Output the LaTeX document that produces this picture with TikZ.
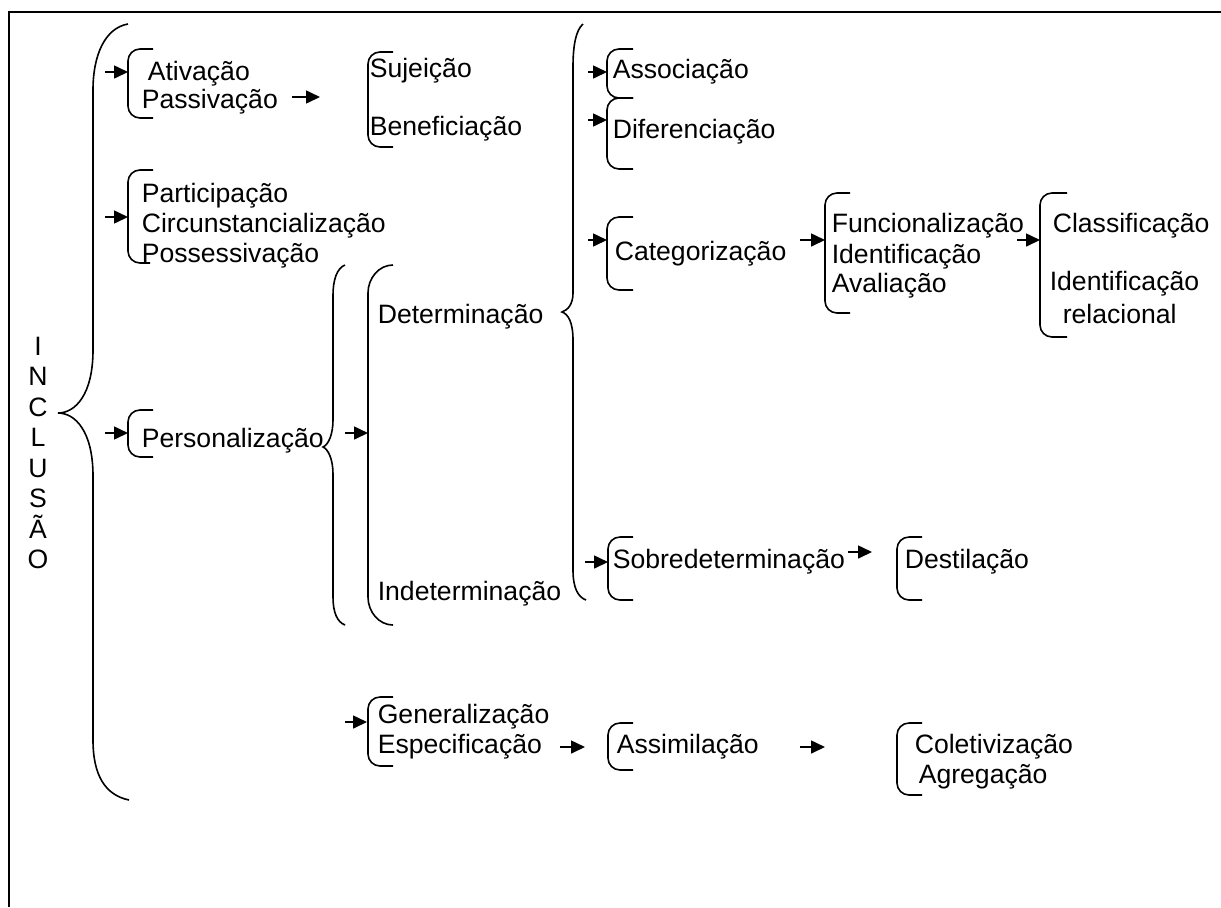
\documentclass[tikz,border=0pt]{standalone}
\usepackage{fontspec}
\setmainfont{Liberation Sans}
\usetikzlibrary{arrows.meta,calc}

\begin{document}
\begin{tikzpicture}[x=0.5pt, y=-0.5pt, line width=0.8pt,
    txt/.style={anchor=base west, inner sep=0pt, font=\fontsize{13.3pt}{15pt}\selectfont},
    seta/.style={-{Triangle[length=7pt,width=6.5pt]}},
    colch/.style={rounded corners=6pt}]
\useasboundingbox (0,0) rectangle (1221,907);
\draw[line width=1pt] (1221,12) -- (9,12) -- (9,907);

% INCLUSAO
\foreach \l [count=\i] in {I,N,C,L,U,S,Ã,O}
    \node[txt, anchor=base] (inc\i) at (38,{355+30.5*(\i-1)}) {\l};
\draw (128,24) .. controls (105,28) and (93,55) .. (93,90) -- (93,350)
    .. controls (93,395) and (75,413) .. (58,413)
    .. controls (75,413) and (93,431) .. (93,476) -- (93,740)
    .. controls (93,775) and (105,795) .. (129,800);

% primeiro nivel
\draw[colch] (153,49) -- (128,49) -- (128,118) -- (153,118);
\node[txt] (ati) at (147,80) {Ativação};
\node[txt] (pas) at (141,108) {Passivação};
\draw[colch] (393,52) -- (368,52) -- (368,147) -- (393,147);
\node[txt] (suj) at (369,77) {Sujeição};
\node[txt] (ben) at (369,135) {Beneficiação};

\draw[colch] (153,170) -- (128,170) -- (128,263) -- (150,263);
\node[txt] (par) at (141,202) {Participação};
\node[txt] (cir) at (141,232) {Circunstancialização};
\node[txt] (pos) at (141,262) {Possessivação};

\draw[colch] (153,410) -- (128,410) -- (128,457) -- (153,457);
\node[txt] (per) at (141,447) {Personalização};
\draw (345,265) .. controls (337,268) and (333,280) .. (333,295) -- (333,420)
    .. controls (333,435) and (328,445) .. (323,447)
    .. controls (328,449) and (333,459) .. (333,474) -- (333,597)
    .. controls (333,612) and (337,622) .. (345,625);

% determinacao
\draw (393,265) .. controls (379,265) and (368,278) .. (368,293) -- (368,597)
    .. controls (368,612) and (379,625) .. (393,625);
\node[txt] (det) at (377,323) {Determinação};
\node[txt] (ind) at (377,600) {Indeterminação};
\draw (583,24) .. controls (576,30) and (573,45) .. (573,67) -- (573,293)
    .. controls (573,304) and (568,310) .. (562,312)
    .. controls (568,314) and (573,322) .. (573,340) -- (573,570)
    .. controls (573,588) and (578,597) .. (586,600);

\draw[colch] (633,49) -- (607,49) -- (607,98) -- (633,98);
\node[txt] (ass) at (612,78) {Associação};
\draw[colch] (633,98) -- (607,98) -- (607,169) -- (633,169);
\node[txt] (dif) at (612,138) {Diferenciação};

\draw[colch] (633,217) -- (607,217) -- (607,290) -- (633,290);
\node[txt] (cat) at (614,260) {Categorização};
\draw[colch] (850,193) -- (825,193) -- (825,313) -- (850,313);
\node[txt] (fun) at (831,232) {Funcionalização};
\node[txt] (ide) at (831,263) {Identificação};
\node[txt] (ava) at (831,292) {Avaliação};
\draw[colch] (1067,193) -- (1040,193) -- (1040,337) -- (1067,337);
\node[txt] (cla) at (1052,232) {Classificação};
\node[txt] (idr) at (1049,290) {Identificação};
\node[txt] (rel) at (1062,323) {relacional};

\draw[colch] (633,537) -- (608,537) -- (608,600) -- (633,600);
\node[txt] (sob) at (612,568) {Sobredeterminação};
\draw[colch] (922,537) -- (897,537) -- (897,600) -- (922,600);
\node[txt] (des) at (904,568) {Destilação};

% generalizacao
\draw[colch] (393,697) -- (368,697) -- (368,766) -- (393,766);
\node[txt] (gen) at (377,723) {Generalização};
\node[txt] (esp) at (377,753) {Especificação};
\draw[colch] (633,723) -- (608,723) -- (608,770) -- (633,770);
\node[txt] (asm) at (616,753) {Assimilação};
\draw[colch] (922,723) -- (897,723) -- (897,795) -- (922,795);
\node[txt] (col) at (914,753) {Coletivização};
\node[txt] (agr) at (918,783) {Agregação};

% setas
\coordinate (a1) at (128,72);
\coordinate (a2) at (320,97);
\coordinate (a3) at (128,217);
\coordinate (a4) at (128,433);
\coordinate (a5) at (368,433);
\coordinate (a6) at (607,72);
\coordinate (a7) at (607,120);
\coordinate (a8) at (607,240);
\coordinate (a9) at (825,240);
\coordinate (a10) at (1040,240);
\coordinate (a11) at (608,562);
\coordinate (a12) at (872,552);
\coordinate (a13) at (367,722);
\coordinate (a14) at (585,747);
\coordinate (a15) at (825,747);
\foreach \p/\l in {a1/23, a2/28, a3/23, a4/23, a5/23, a6/19, a7/19, a8/19,
    a9/25, a10/23, a11/23, a12/24, a13/22, a14/25, a15/25}
    \draw[seta] ($(\p)+(-\l,0)$) -- (\p);
\end{tikzpicture}
\end{document}
